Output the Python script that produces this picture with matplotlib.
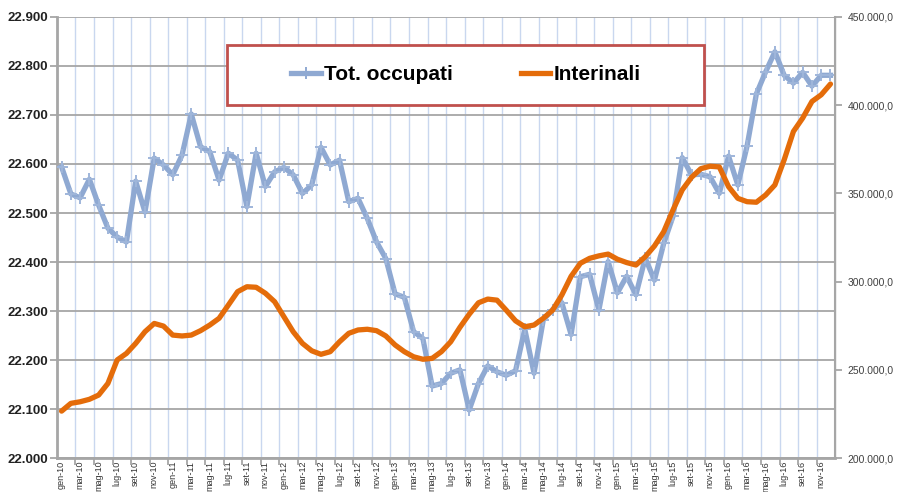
import matplotlib
matplotlib.use("Agg")
import matplotlib.pyplot as plt
from matplotlib.patches import Rectangle
from matplotlib.lines import Line2D
from matplotlib.ticker import FuncFormatter, MultipleLocator, FixedLocator
import numpy as np

plt.rcParams["font.family"] = ["Liberation Sans", "DejaVu Sans"]

# Data (monthly, gen-10 .. dic-16)

mesi = ["gen", "feb", "mar", "apr", "mag", "giu",
        "lug", "ago", "set", "ott", "nov", "dic"]
anni = ["10", "11", "12", "13", "14", "15", "16"]
labels = [m + "-" + a for a in anni for m in mesi]

# Tot. occupati (migliaia)
occupati = [
    22594, 22539, 22531, 22569, 22516, 22469, 22451, 22441, 22565, 22502,
    22612, 22598, 22578, 22618, 22702, 22635, 22625, 22567, 22622, 22608,
    22513, 22622, 22554, 22584, 22593, 22578, 22540, 22557, 22634, 22598,
    22608, 22523, 22530, 22489, 22441, 22407, 22335, 22328, 22258, 22244,
    22147, 22152, 22173, 22180, 22098, 22152, 22188, 22176, 22169, 22178,
    22263, 22173, 22282, 22303, 22317, 22252, 22370, 22375, 22302, 22401,
    22337, 22371, 22333, 22408, 22363, 22438, 22493, 22613, 22578, 22579,
    22574, 22540, 22616, 22557, 22637, 22743, 22788, 22829, 22781, 22765,
    22787, 22759, 22781, 22781,
]

# Interinali
interinali = [
    226600, 231000, 231900, 233300, 235700, 242300, 255600, 259300, 265000, 271600,
    276300, 274800, 269700, 269200, 269700, 272200, 275400, 279200, 286700, 294300,
    297100, 296800, 293400, 288600, 280100, 271600, 265000, 260800, 258800, 260300,
    265900, 270700, 272600, 273000, 272200, 269200, 264100, 260300, 257400, 256000,
    256500, 260300, 265900, 274100, 281500, 288000, 290100, 289500, 283800, 277800,
    274400, 275400, 279200, 283800, 292400, 303000, 310400, 313200, 314600, 315600,
    312700, 310800, 309400, 314100, 320200, 328300, 340600, 352000, 359100, 364000,
    365400, 365000, 353800, 347200, 345300, 345000, 349100, 354800, 369000, 385100,
    392700, 402100, 405900, 412000,
]

blue = "#8FA9D2"
orange = "#E46C0A"
grid_gray = "#A6A6A6"

x = np.arange(len(labels))

fig = plt.figure(figsize=(8.97, 4.92), dpi=100)
ax = fig.add_axes([0.0635, 0.069, 0.8675, 0.8965])
ax2 = ax.twinx()

# Left axis
ax.set_xlim(-0.5, len(labels) - 0.5)
ax.set_ylim(22000, 22900)
ax.yaxis.set_major_locator(MultipleLocator(100))
ax.yaxis.set_major_formatter(FuncFormatter(lambda v, p: f"{v/1000:.3f}"))
ax.grid(axis="y", color=grid_gray, linewidth=1.3)

# vertical grid lines every two months
bounds = np.arange(1.5, len(labels) - 1, 2)
for b in bounds:
    ax.axvline(b, color="#C9D7EF", linewidth=1.0, zorder=0)

ax.set_xticks(x[::2])
ax.set_xticklabels(labels[::2], rotation=90, fontsize=6.5, color="#333333")
ax.xaxis.set_minor_locator(FixedLocator(bounds))
ax.tick_params(axis="x", which="major", length=0, pad=2)
ax.tick_params(axis="x", which="minor", length=5, color=grid_gray, width=1.3)
ax.tick_params(axis="y", length=5, color=grid_gray, width=1.3, pad=1.5)
for t in ax.get_yticklabels():
    t.set_fontweight("bold")
    t.set_fontsize(9.5)
    t.set_color("#222222")
ax.set_axisbelow(True)

for side in ["top"]:
    ax.spines[side].set_visible(False)
    ax2.spines[side].set_visible(False)
for side in ["left", "bottom"]:
    ax.spines[side].set_color(grid_gray)
    ax.spines[side].set_linewidth(2)
ax2.spines["right"].set_color(grid_gray)
ax2.spines["right"].set_linewidth(1.5)
ax2.spines["left"].set_visible(False)
ax2.spines["bottom"].set_visible(False)

# Right axis
ax2.set_ylim(200000, 450000)
ax2.yaxis.set_major_locator(MultipleLocator(50000))
ax2.yaxis.set_major_formatter(
    FuncFormatter(lambda v, p: f"{int(v):,}".replace(",", ".") + ",0"))
ax2.tick_params(axis="y", length=5, color=grid_gray, width=1.3,
                labelsize=7.5, labelcolor="#404040", pad=4)

# Lines
ax.plot(x, occupati, color=blue, linewidth=3.8, marker="+", markersize=9,
        markeredgewidth=1.4, markeredgecolor="#9FB6DA", zorder=3,
        solid_joinstyle="round")
ax2.plot(x, interinali, color=orange, linewidth=3.8, zorder=4,
         solid_joinstyle="round", solid_capstyle="round")

# Legend with red frame
fig.patches.append(Rectangle((227 / 897, 1 - 105 / 492), 477 / 897, 60 / 492,
                             transform=fig.transFigure, facecolor="white",
                             edgecolor="#C0504D", linewidth=2, zorder=5))
handles = [
    Line2D([], [], color=blue, linewidth=3.8, marker="+", markersize=9,
           markeredgewidth=1.4),
    Line2D([], [], color=orange, linewidth=3.8),
]
leg = fig.legend(handles, ["Tot. occupati", "Interinali"], loc="center",
                 bbox_to_anchor=(466 / 897, 1 - 75 / 492), ncol=2,
                 frameon=False, handlelength=1.4, handletextpad=0.15,
                 columnspacing=3.3, prop={"weight": "bold", "size": 15})
leg.set_zorder(6)

plt.savefig("out.png", dpi=100)
